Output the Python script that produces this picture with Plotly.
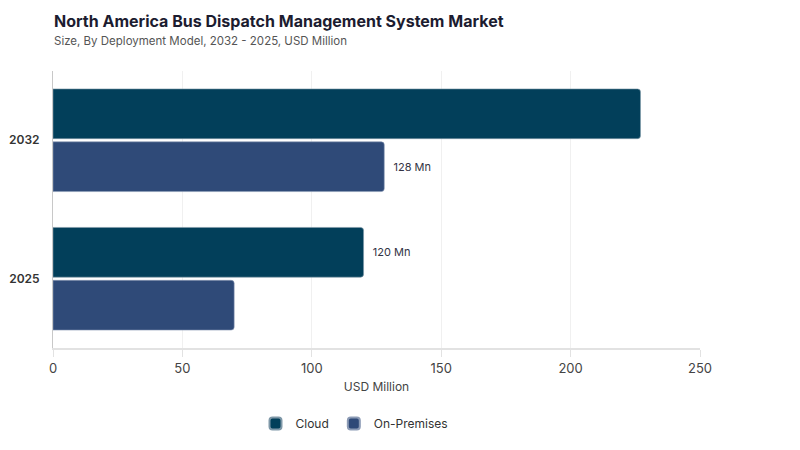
import plotly.graph_objects as go

years = ["2032", "2025"]
cloud = [227, 120]
on_premises = [128, 70]
cloud_labels = ["", "120 Mn"]
on_premises_labels = ["128 Mn", ""]
x_ticks = [0, 50, 100, 150, 200, 250]

font = "Inter, Noto Sans, sans-serif"

fig = go.Figure()
fig.add_trace(go.Bar(
    y=years, x=cloud, name="Cloud", orientation="h",
    marker=dict(color="#023f5a", line=dict(color="#7f98a8", width=0.6)),
    text=[f"  {t}" if t else "" for t in cloud_labels], textposition="outside",
    textfont=dict(size=11, color="#333344"), cliponaxis=False,
))
fig.add_trace(go.Bar(
    y=years, x=on_premises, name="On-Premises", orientation="h",
    marker=dict(color="#2f4a78", line=dict(color="#8c9bb5", width=0.6)),
    text=[f"  {t}" if t else "" for t in on_premises_labels], textposition="outside",
    textfont=dict(size=11, color="#333344"), cliponaxis=False,
))

fig.add_annotation(
    text="<b>North America Bus Dispatch Management System Market</b>",
    xref="paper", yref="paper", x=-0.002, y=1.0, yshift=50, xanchor="left", yanchor="middle",
    showarrow=False, font=dict(size=16, color="#1c1c30"),
)
fig.add_annotation(
    text="Size, By Deployment Model, 2032 - 2025, USD Million",
    xref="paper", yref="paper", x=-0.002, y=1.0, yshift=30, xanchor="left", yanchor="middle",
    showarrow=False, font=dict(size=11.5, color="#555555"),
)

fig.update_layout(
    width=800, height=450,
    margin=dict(l=45, r=108, t=63, b=110),
    paper_bgcolor="white", plot_bgcolor="white",
    font=dict(family=font, color="#444444"),
    barmode="group", bargap=0.236, bargroupgap=0.06, barcornerradius=3,
    xaxis=dict(
        range=[0, 250], tickvals=x_ticks, showgrid=True, gridcolor="#f0f0f0",
        zeroline=False, showline=True, linecolor="#e2e2e2", linewidth=2,
        ticks="outside", tickcolor="#e2e2e2", ticklen=7,
        tickfont=dict(size=13, color="#444444"), automargin=False,
        title=dict(text="USD Million", font=dict(size=12, color="#444444"), standoff=8),
    ),
    yaxis=dict(
        autorange="reversed", showline=True, linecolor="#c8c8c8", linewidth=1,
        showgrid=False, ticks="", tickfont=dict(size=12, color="#333333", weight=600),
        ticklabelstandoff=10, automargin=False,
    ),
    legend=dict(
        orientation="h", x=0.466, xanchor="center", y=-0.22, yanchor="top",
        font=dict(size=12, color="#333333"), itemsizing="constant",
    ),
)

fig.write_html("out.html")
